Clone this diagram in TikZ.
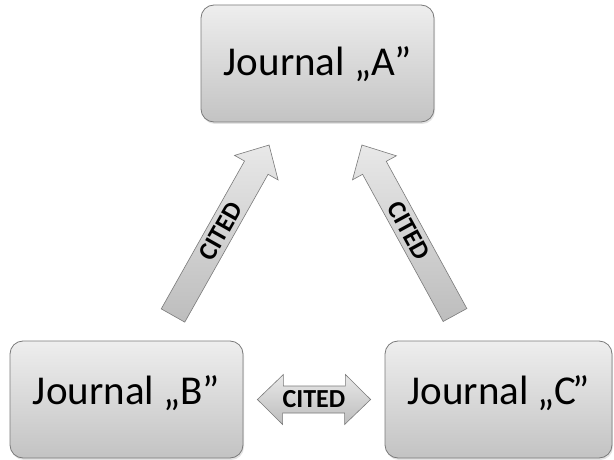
\documentclass[tikz,border=0pt]{standalone}
\usepackage{fontspec}
\setmainfont{Carlito}
\usetikzlibrary{shadows,calc}

\definecolor{boxtop}{HTML}{EEEEEE}
\definecolor{boxbot}{HTML}{C3C3C3}
\definecolor{edgegray}{HTML}{7A7A7A}
\definecolor{arrowtop}{HTML}{E8E8E8}
\definecolor{arrowbot}{HTML}{BDBDBD}

\tikzset{
  journal/.style={rounded corners=13pt, draw=edgegray, line width=0.8pt,
    top color=boxtop, bottom color=boxbot, minimum height=117pt, inner sep=0pt,
    drop shadow={opacity=0.22, shadow xshift=1pt, shadow yshift=-2pt}},
  jtext/.style={font=\fontsize{41}{44}\selectfont, inner sep=0pt},
  blockarrow/.style={draw=edgegray, line width=0.6pt, line join=miter,
    top color=arrowtop, bottom color=arrowbot},
  citetext/.style={font=\bfseries\fontsize{26}{28}\selectfont, inner sep=0pt},
}

\begin{document}
\begin{tikzpicture}[x=1pt, y=1pt]
  \useasboundingbox[fill=white] (0,0) rectangle (614,459);

  % the three journals
  \node[journal, minimum width=233pt] (A) at (317.5,395.5) {};
  \node[journal, minimum width=233pt] (B) at (126.5,59.5) {};
  \node[journal, minimum width=227pt] (C) at (498.5,59.5) {};

  \node[jtext] (At) at ([yshift=-1pt]A.center) {Journal „A”};
  \node[jtext] (Bt) at ([yshift=6pt]B.center) {Journal „B”};
  \node[jtext] (Ct) at ([yshift=6pt]C.center) {Journal „C\kern-4pt”};

  % B cites A
  \begin{scope}[shift={(173,143.5)}, rotate=60.6]
    \coordinate (tailBA) at (0,0);
    \coordinate (tipBA) at (195.7,0);
    \path[blockarrow] (tailBA) ++(0,-13.5) -- ++(169.7,0) -- ++(0,-11.5)
      -- (tipBA) -- ++(-26,25) -- ++(0,-11.5) -- ++(-169.7,0) -- cycle;
    \node[citetext, transform shape] (citeBA) at (97,0) {CITED};
  \end{scope}

  % C cites A
  \begin{scope}[shift={(455,144)}, rotate=118.7]
    \coordinate (tailCA) at (0,0);
    \coordinate (tipCA) at (193.8,0);
    \path[blockarrow] (tailCA) ++(0,-13.5) -- ++(167.8,0) -- ++(0,-11.5)
      -- (tipCA) -- ++(-26,25) -- ++(0,-11.5) -- ++(-167.8,0) -- cycle;
    \node[citetext, transform shape, rotate=180] (citeCA) at (96,0) {CITED};
  \end{scope}

  % B and C cite each other
  \coordinate (tipB) at ([xshift=14pt]B.east);
  \coordinate (tipC) at ([xshift=-14pt]C.west);
  \path[blockarrow] (tipB) -- ++(26,25) -- ++(0,-11.5) -- ++(62,0) -- ++(0,11.5)
    -- (tipC) -- ++(-26,-25) -- ++(0,11.5) -- ++(-62,0) -- ++(0,-11.5) -- cycle;
  \node[citetext] (citeBC) at ($(tipB)!0.5!(tipC)$) {CITED};
\end{tikzpicture}
\end{document}
